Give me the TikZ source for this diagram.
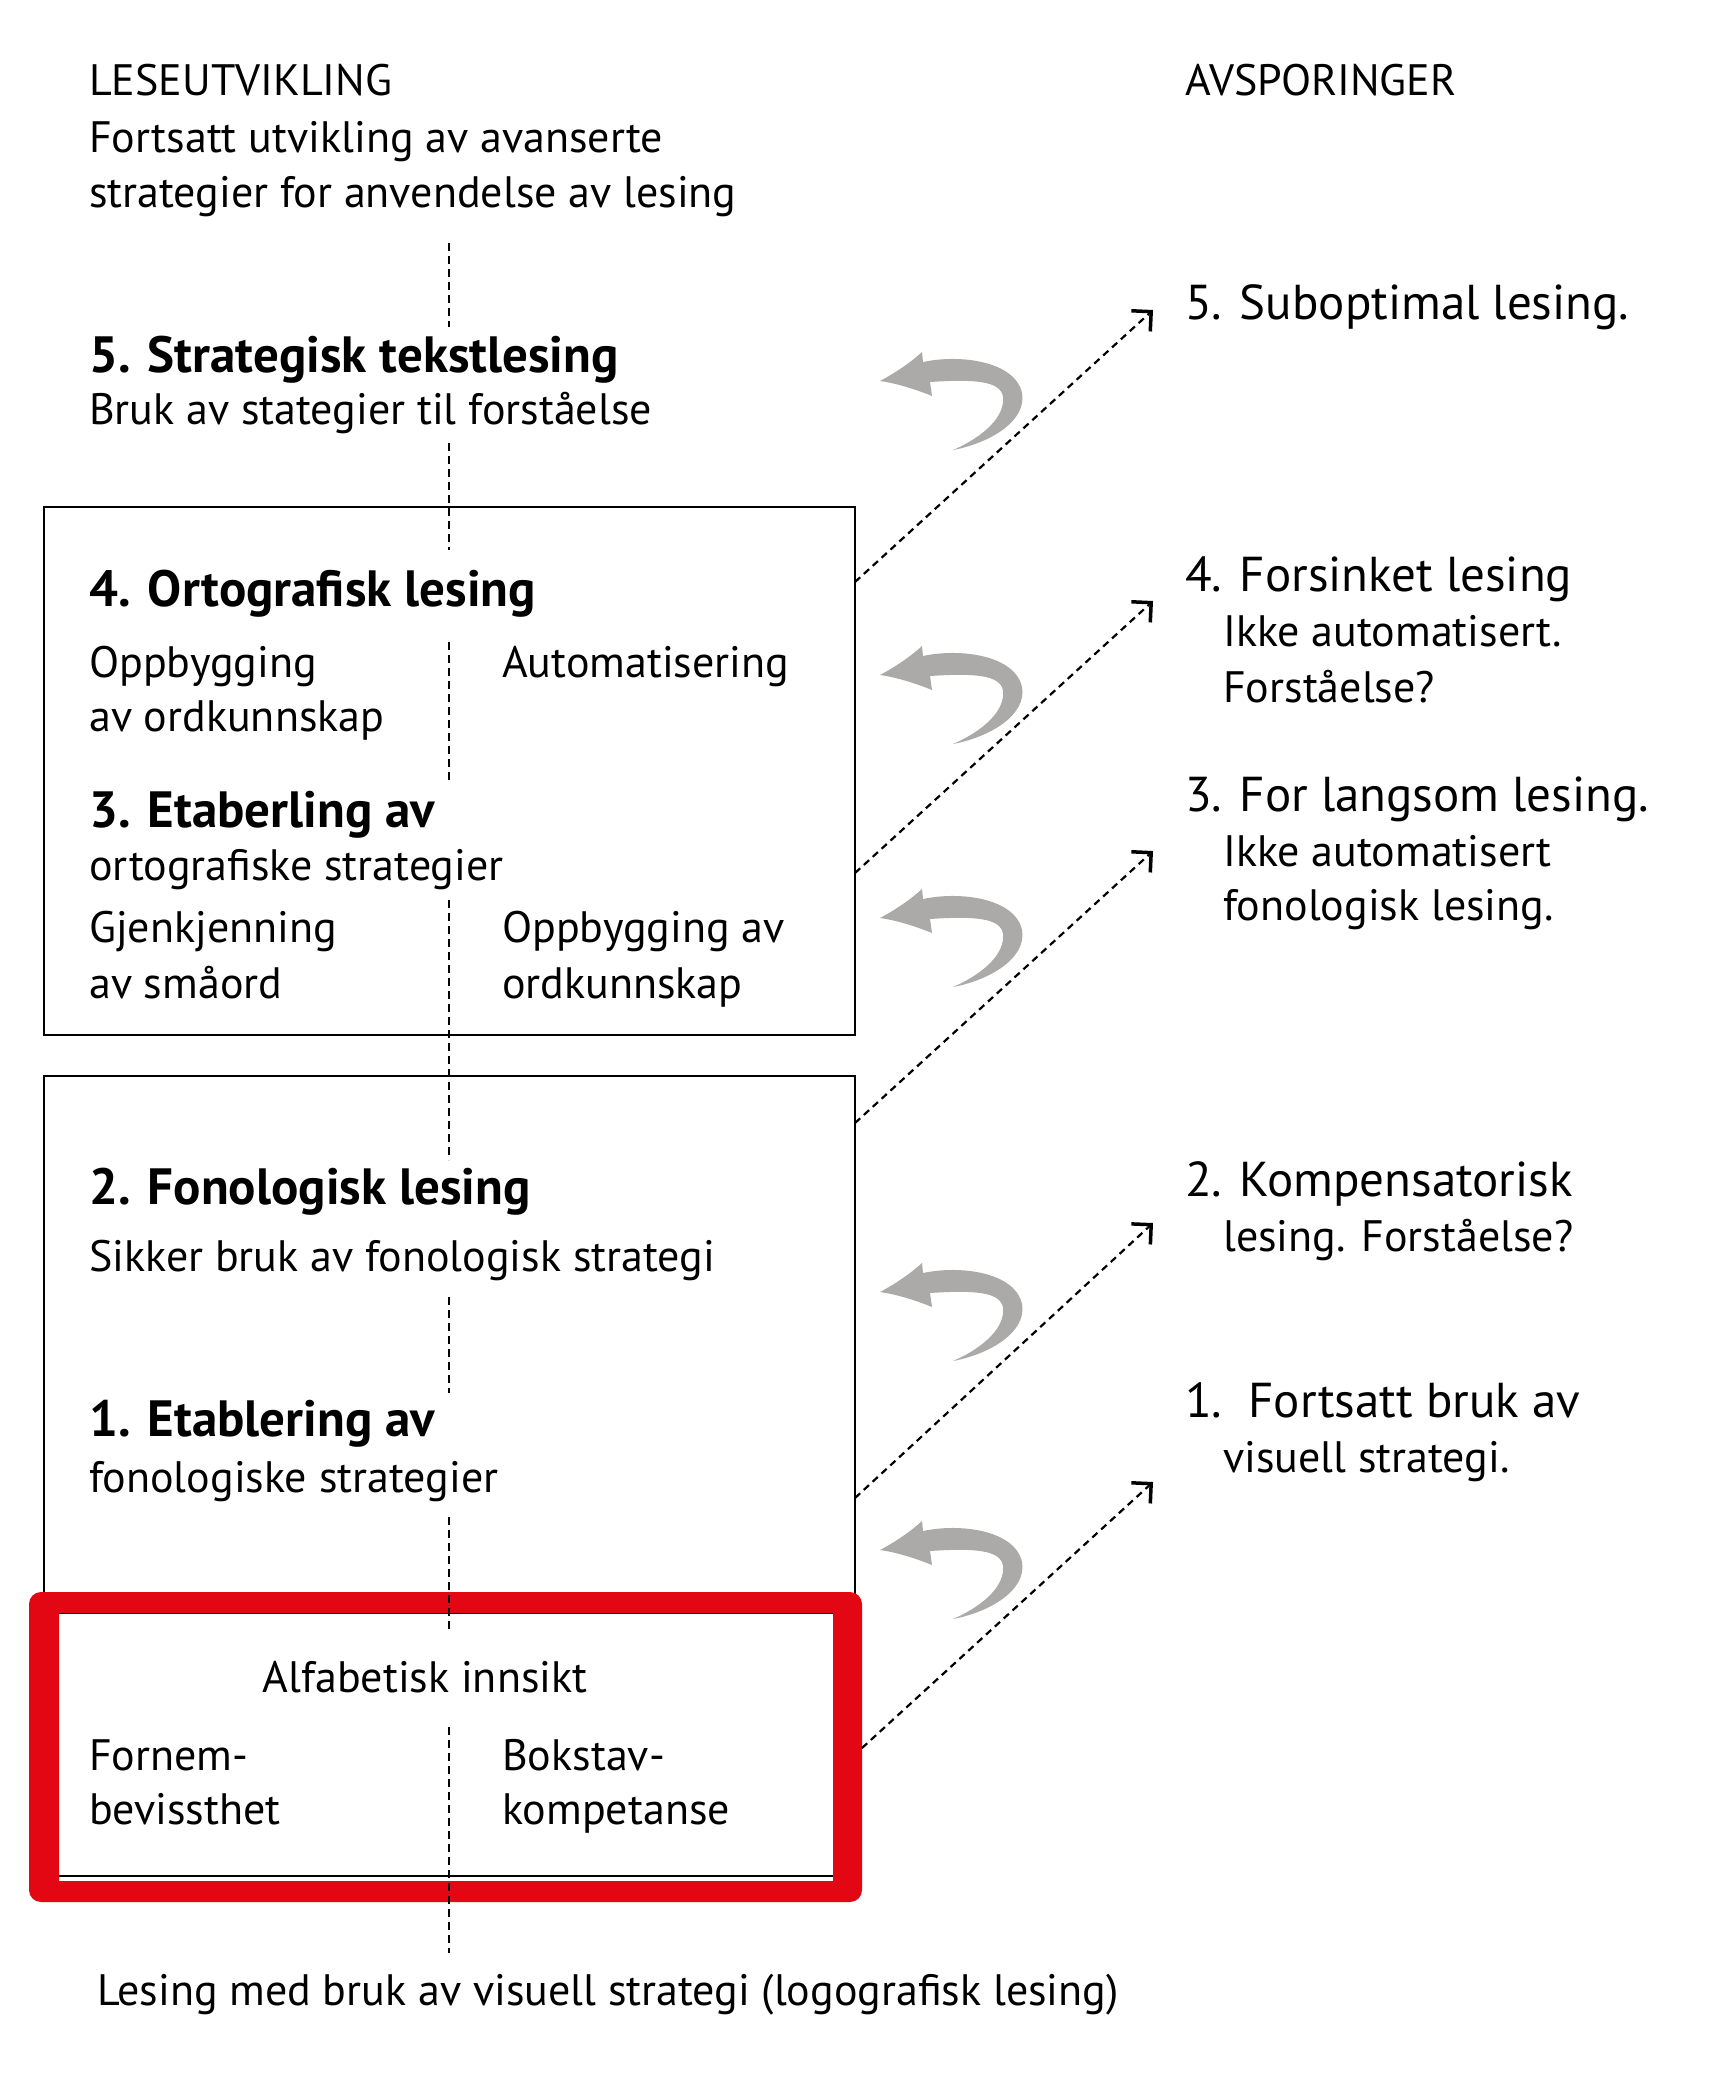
\documentclass[tikz,border=0pt]{standalone}
\usepackage{fontspec}
\setmainfont{PT Sans}
\usetikzlibrary{arrows.meta}
\definecolor{redframe}{HTML}{E30613}
\definecolor{curvegray}{HTML}{ACA9A9}
\tikzset{
  body/.style={anchor=base west, inner sep=0pt, font=\fontsize{44}{53}\selectfont},
  big/.style={anchor=base west, inner sep=0pt, font=\fontsize{49}{58}\selectfont},
  head/.style={anchor=base west, inner sep=0pt, font=\fontsize{51}{60}\selectfont\bfseries},
  boxline/.style={line width=2.5pt},
  guide/.style={line width=2pt, dash pattern=on 8pt off 5pt},
  jump/.style={line width=2.2pt, dash pattern=on 7pt off 5pt,
    -{Straight Barb[length=14pt,width=28pt,line width=3.5pt]}},
  backarrow/.pic={
    \fill[curvegray] (0,0) .. controls (15,-8) and (30,-18) .. (42,-29)
      -- (43,-19) .. controls (80,-27) and (135,-20) .. (142,12)
      .. controls (147,40) and (110,62) .. (73,69)
      .. controls (105,55) and (125,35) .. (123,16)
      .. controls (121,0) and (95,-2) .. (50,1)
      -- (52,15) .. controls (35,8) and (15,2) .. cycle;
  },
}
\begin{document}
\begin{tikzpicture}[x=1pt,y=-1pt]
\fill[white] (0,0) rectangle (1717,2083);
\useasboundingbox (0,0) rectangle (1717,2083);

% boxes
\draw[boxline] (44,507) rectangle (855,1035);
\draw[boxline] (44,1076) rectangle (855,1876);
\fill[white] (59,1613) rectangle (833,1876);
\draw[boxline] (59,1613) -- (833,1613);
\draw[boxline] (59,1876) -- (833,1876);
\fill[redframe,even odd rule] [rounded corners=12pt] (29,1592) rectangle (862,1902)
  [sharp corners] (59,1613) rectangle (833,1881);

% vertical guide
\foreach \a/\b in {243/327,443/550,642/781,900/1160,1297/1393,1517/1633,1727/1953}
  \draw[guide] (449,\a) -- (449,\b);

% header
\node[body] (lu) at (89,95) {LESEUTVIKLING};
\node[body] (lu1) at (89,152) {Fortsatt utvikling av avanserte};
\node[body] (lu2) at (89,207) {strategier for anvendelse av lesing};
\node[body] (av) at (1185,95) {AVSPORINGER};

% left column
\node[head] (s5) at (89,372) {5. Strategisk tekstlesing};
\node[body] (s5a) at (89,424) {Bruk av stategier til forståelse};
\node[head] (s4) at (89,606) {4. Ortografisk lesing};
\node[body] (s4a) at (89,677) {Oppbygging};
\node[body] (s4b) at (89,731) {av ordkunnskap};
\node[body] (s4c) at (502,677) {Automatisering};
\node[head] (s3) at (89,827) {3. Etaberling av};
\node[body] (s3a) at (89,880) {ortografiske strategier};
\node[body] (s3b) at (89,942) {Gjenkjenning};
\node[body] (s3c) at (89,998) {av småord};
\node[body] (s3d) at (502,942) {Oppbygging av};
\node[body] (s3e) at (502,998) {ordkunnskap};
\node[head] (s2) at (89,1204) {2. Fonologisk lesing};
\node[body] (s2a) at (89,1271) {Sikker bruk av fonologisk strategi};
\node[head] (s1) at (89,1436) {1. Etablering av};
\node[body] (s1a) at (89,1492) {fonologiske strategier};
\node[body, anchor=base] (al) at (425,1692) {Alfabetisk innsikt};
\node[body] (al1) at (89,1770) {Fornem-};
\node[body] (al2) at (89,1824) {bevissthet};
\node[body] (al3) at (502,1770) {Bokstav-};
\node[body] (al4) at (502,1824) {kompetanse};
\node[body] (bot) at (97,2005) {Lesing med bruk av visuell strategi (logografisk lesing)};

% right column
\node[big] (r5) at (1185,319) {5. Suboptimal lesing.};
\node[big] (r4) at (1185,591) {4. Forsinket lesing};
\node[body] (r4a) at (1223,646) {Ikke automatisert.};
\node[body] (r4b) at (1223,702) {Forståelse?};
\node[big] (r3) at (1185,811) {3. For langsom lesing.};
\node[body] (r3a) at (1223,866) {Ikke automatisert};
\node[body] (r3b) at (1223,920) {fonologisk lesing.};
\node[big] (r2) at (1185,1196) {2. Kompensatorisk};
\node[body] (r2a) at (1223,1251) {lesing. Forståelse?};
\node[big] (r1) at (1185,1417) {1.\ \ Fortsatt bruk av};
\node[body] (r1a) at (1223,1472) {visuell strategi.};

% curved back arrows
\pic (b5) at (880,381) {backarrow};
\pic (b4) at (880,675) {backarrow};
\pic (b3) at (880,918) {backarrow};
\pic (b2) at (880,1292) {backarrow};
\pic (b1) at (880,1550) {backarrow};

% dashed arrows
\coordinate (d5s) at (855,582);  \coordinate (d5e) at (1153,310);
\coordinate (d4s) at (855,873);  \coordinate (d4e) at (1153,601);
\coordinate (d3s) at (855,1123); \coordinate (d3e) at (1153,851);
\coordinate (d2s) at (855,1498); \coordinate (d2e) at (1153,1223);
\coordinate (d1s) at (862,1748); \coordinate (d1e) at (1153,1482);
\foreach \n in {1,...,5} \draw[jump] (d\n s) -- (d\n e);
\end{tikzpicture}
\end{document}
